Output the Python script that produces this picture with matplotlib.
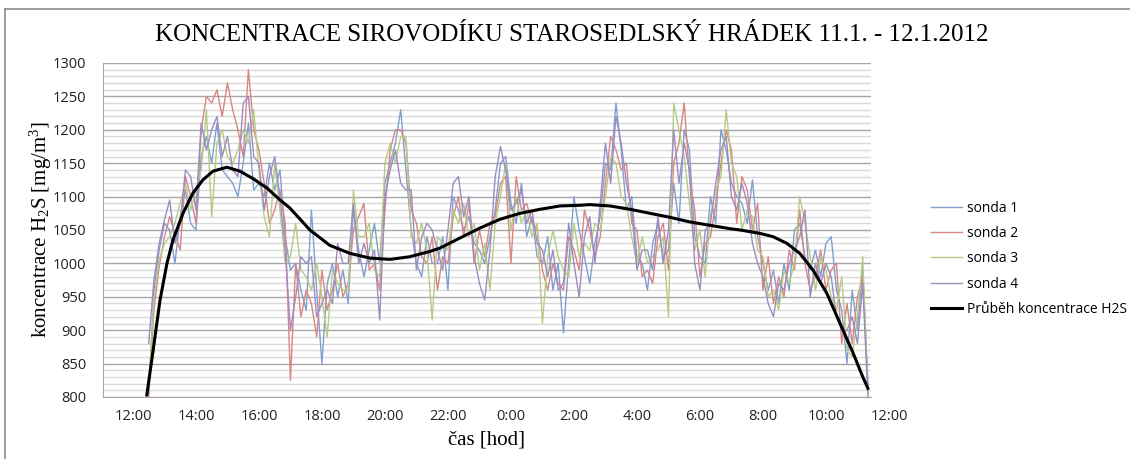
import numpy as np
import matplotlib
matplotlib.use("Agg")
import matplotlib.pyplot as plt
from matplotlib.lines import Line2D

# ---------------- data ----------------
start_hour = 0.5          # 12:30 on 11.1. (hours after 12:00)
step_hours = 1 / 6        # 10-minute sampling

sonda1 = [805, 960, 1020, 1060, 1050, 1000, 1070, 1110, 1060, 1050,
          1160, 1190, 1150, 1210, 1140, 1130, 1120, 1100, 1150, 1210,
          1110, 1120, 1100, 1150, 1110, 1140, 1040, 990, 1000, 960,
          930, 1080, 960, 850, 970, 1000, 950, 990, 940, 1080,
          1020, 980, 1020, 1060, 1000, 1120, 1150, 1180, 1230, 1140,
          1050, 1000, 980, 1040, 1000, 1000, 1040, 960, 1100, 1080,
          1050, 1070, 1030, 1020, 1000, 1040, 1080, 1150, 1160, 1090,
          1060, 1120, 1040, 1070, 1010, 1000, 1040, 960, 1000, 896,
          1000, 1100, 1050, 1010, 970, 1030, 1070, 1150, 1140, 1240,
          1170, 1080, 1100, 1010, 1000, 960, 1030, 1060, 1010, 1020,
          1120, 1060, 1200, 1170, 1040, 1010, 1000, 1100, 1060, 1200,
          1170, 1120, 1100, 1090, 1060, 1125, 1040, 1000, 960, 990,
          940, 1000, 960, 1050, 1060, 1010, 990, 1020, 980, 1030,
          1040, 960, 930, 850, 960, 900, 990, 820]

sonda2 = [800, 930, 995, 1040, 1070, 1045, 1020, 1130, 1100, 1060,
          1200, 1250, 1240, 1260, 1220, 1270, 1230, 1200, 1160, 1290,
          1200, 1170, 1120, 1060, 1080, 1110, 1060, 825, 1000, 920,
          960, 940, 890, 990, 930, 960, 1000, 950, 970, 1050,
          1070, 1090, 990, 1000, 960, 1080, 1170, 1200, 1200, 1180,
          1080, 1060, 1010, 1000, 1040, 960, 1010, 1000, 1070, 1100,
          1040, 1090, 1000, 1050, 1010, 1060, 1070, 1120, 1130, 1000,
          1130, 1080, 1090, 1060, 1050, 990, 960, 1000, 970, 960,
          1040, 1020, 990, 1080, 1050, 1010, 1040, 1120, 1190, 1170,
          1140, 1150, 1060, 1050, 980, 990, 970, 1040, 1060, 990,
          1150, 1180, 1240, 1130, 1080, 980, 1030, 1040, 1090, 1150,
          1200, 1170, 1060, 1130, 1110, 1050, 1090, 960, 1010, 940,
          980, 950, 1020, 990, 1080, 1000, 960, 980, 1020, 960,
          990, 1000, 880, 940, 880, 950, 980, 810]

sonda3 = [810, 945, 1005, 1030, 1040, 1060, 1090, 1120, 1080, 1110,
          1140, 1230, 1070, 1180, 1200, 1160, 1150, 1170, 1200, 1180,
          1230, 1140, 1070, 1040, 1150, 1080, 1000, 1010, 1060, 990,
          980, 960, 1000, 950, 890, 990, 970, 960, 960, 1110,
          1040, 1040, 1060, 990, 980, 1150, 1180, 1150, 1190, 1190,
          1040, 1030, 1060, 1020, 915, 1040, 1030, 1020, 1080, 1060,
          1090, 1040, 1060, 990, 1030, 960, 1060, 1100, 1150, 1050,
          1100, 1060, 1080, 1040, 1060, 910, 1010, 1050, 1010, 990,
          980, 1060, 1010, 1030, 1020, 1060, 1050, 1100, 1160, 1150,
          1100, 1090, 1040, 1000, 1040, 1000, 1010, 1020, 1040, 920,
          1240, 1200, 1160, 1090, 1020, 1050, 980, 1070, 1110, 1130,
          1230, 1150, 1130, 1050, 1080, 1070, 1020, 1010, 950, 960,
          930, 990, 970, 1000, 1100, 1060, 1010, 960, 1010, 990,
          950, 930, 980, 870, 860, 920, 1010, 805]

sonda4 = [880, 975, 1030, 1065, 1095, 1030, 1060, 1140, 1130, 1080,
          1210, 1170, 1200, 1220, 1160, 1190, 1140, 1130, 1240, 1250,
          1160, 1150, 1080, 1130, 1160, 1100, 1020, 900, 950, 1010,
          1000, 1010, 920, 940, 960, 940, 1030, 1000, 1000, 1090,
          1000, 1030, 1000, 1020, 915, 1100, 1140, 1170, 1120, 1110,
          1110, 990, 1040, 1060, 1050, 1020, 990, 1050, 1120, 1130,
          1070, 1100, 1010, 970, 945, 1020, 1130, 1175, 1140, 1080,
          1090, 1110, 1060, 1080, 1030, 1020, 980, 1020, 960, 970,
          1060, 1000, 950, 1040, 1070, 1000, 1090, 1180, 1120, 1220,
          1180, 1120, 1080, 990, 1020, 1020, 990, 1070, 1000, 1050,
          1200, 1120, 1180, 1140, 1000, 960, 1050, 1060, 1120, 1170,
          1190, 1100, 1080, 1120, 1090, 1030, 1000, 980, 940, 920,
          970, 960, 1000, 1020, 1040, 1080, 950, 1000, 970, 1000,
          980, 920, 900, 900, 920, 880, 970, 800]

trend_hours = [0.44, 0.63, 0.86, 1.08, 1.27, 1.59, 1.90, 2.22, 2.54, 2.98,
               3.40, 3.81, 4.25, 4.67, 4.98, 5.62, 6.25, 6.89, 7.52, 8.16,
               8.79, 9.43, 9.75, 10.38, 11.02, 11.65, 12.29, 12.92, 13.56, 14.19,
               14.51, 15.14, 15.78, 16.41, 17.05, 17.68, 18.32, 18.95, 19.27, 19.90,
               20.32, 20.76, 21.17, 21.59, 22.03, 22.44, 22.86, 23.17, 23.33]
trend_values = [803, 866, 945, 1000, 1035, 1075, 1105, 1125, 1138, 1144,
                1138, 1127, 1113, 1095, 1083, 1050, 1027, 1015, 1008, 1006,
                1010, 1018, 1023, 1038, 1053, 1066, 1075, 1081, 1086, 1087,
                1088, 1086, 1081, 1075, 1069, 1062, 1057, 1052, 1050, 1045,
                1040, 1030, 1015, 990, 955, 911, 866, 830, 813]

series_names = ["sonda 1", "sonda 2", "sonda 3", "sonda 4"]
trend_name = "Průběh koncentrace H2S"
tick_hours = [0, 2, 4, 6, 8, 10, 12, 14, 16, 18, 20, 22, 24]
tick_labels = ["12:00", "14:00", "16:00", "18:00", "20:00", "22:00", "0:00",
               "2:00", "4:00", "6:00", "8:00", "10:00", "12:00"]
title = "KONCENTRACE SIROVODÍKU STAROSEDLSKÝ HRÁDEK 11.1. - 12.1.2012"

# ---------------- plot ----------------
plt.rcParams["mathtext.fontset"] = "custom"
plt.rcParams["mathtext.rm"] = "Liberation Serif"
plt.rcParams["mathtext.it"] = "Liberation Serif"

colors = ["#7f9fd0", "#d98583", "#b4cc82", "#9e8bc0"]

fig = plt.figure(figsize=(11.30, 4.59), dpi=100)
ax = fig.add_axes([103 / 1130, 1 - 397 / 459, (871 - 103) / 1130, (397 - 63) / 459])

n = len(sonda1)
t = start_hour + step_hours * np.arange(n)
for vals, c, name in zip([sonda1, sonda2, sonda3, sonda4], colors, series_names):
    ax.plot(t, vals, color=c, lw=1.0, label=name, zorder=3)
ax.plot(trend_hours, trend_values, color="black", lw=2.2, label=trend_name, zorder=5)

ax.set_ylim(800, 1300)
ax.set_xlim(-0.95, 23.43)
ax.set_yticks(np.arange(800, 1301, 50))
ax.set_yticks(np.arange(800, 1301, 10), minor=True)
ax.grid(axis="y", which="major", color="#a6a6a6", lw=1.0, zorder=0)
ax.grid(axis="y", which="minor", color="#d9d9d9", lw=1.0, zorder=0)
ax.set_axisbelow(True)

ax.set_xticks(tick_hours[:-1])
ax.set_xticklabels(tick_labels[:-1])
ax.text(tick_hours[-1], -0.037, tick_labels[-1], transform=ax.get_xaxis_transform(),
        ha="center", va="top", fontsize=10.5, family="Open Sans", color="#222222", clip_on=False)
ax.tick_params(axis="both", which="both", length=0, labelsize=10.5, colors="#222222")
ax.tick_params(axis="x", pad=9)
ax.tick_params(axis="y", pad=12)
for lab in ax.get_xticklabels() + ax.get_yticklabels():
    lab.set_family("Open Sans")

for s in ["top", "right"]:
    ax.spines[s].set_visible(False)
ax.spines["left"].set_color("#a6a6a6")
ax.spines["bottom"].set_color("#a6a6a6")

ax.set_xlabel("čas [hod]", family="Liberation Serif", fontsize=15, labelpad=4)
ax.set_ylabel("koncentrace H$_2$S [mg/m$^3$]", family="Liberation Serif", fontsize=15, labelpad=-1)

fig.text(572 / 1130, 1 - 35 / 459, title, family="Liberation Serif",
         fontsize=18, ha="center", va="center")

leg = fig.legend(loc="upper left", bbox_to_anchor=(918 / 1130, 1 - 188 / 459), frameon=False,
                 fontsize=10, handlelength=2.3, handletextpad=0.3, labelspacing=0.75,
                 prop={"family": "Open Sans", "size": 10})

# outer chart border (top and left)
fig.add_artist(Line2D([5 / 1130, 1], [1 - 9 / 459, 1 - 9 / 459], color="#8c8c8c", lw=1.2))
fig.add_artist(Line2D([5 / 1130, 5 / 1130], [0, 1 - 9 / 459], color="#8c8c8c", lw=1.2))

fig.savefig("out.png", dpi=100)
